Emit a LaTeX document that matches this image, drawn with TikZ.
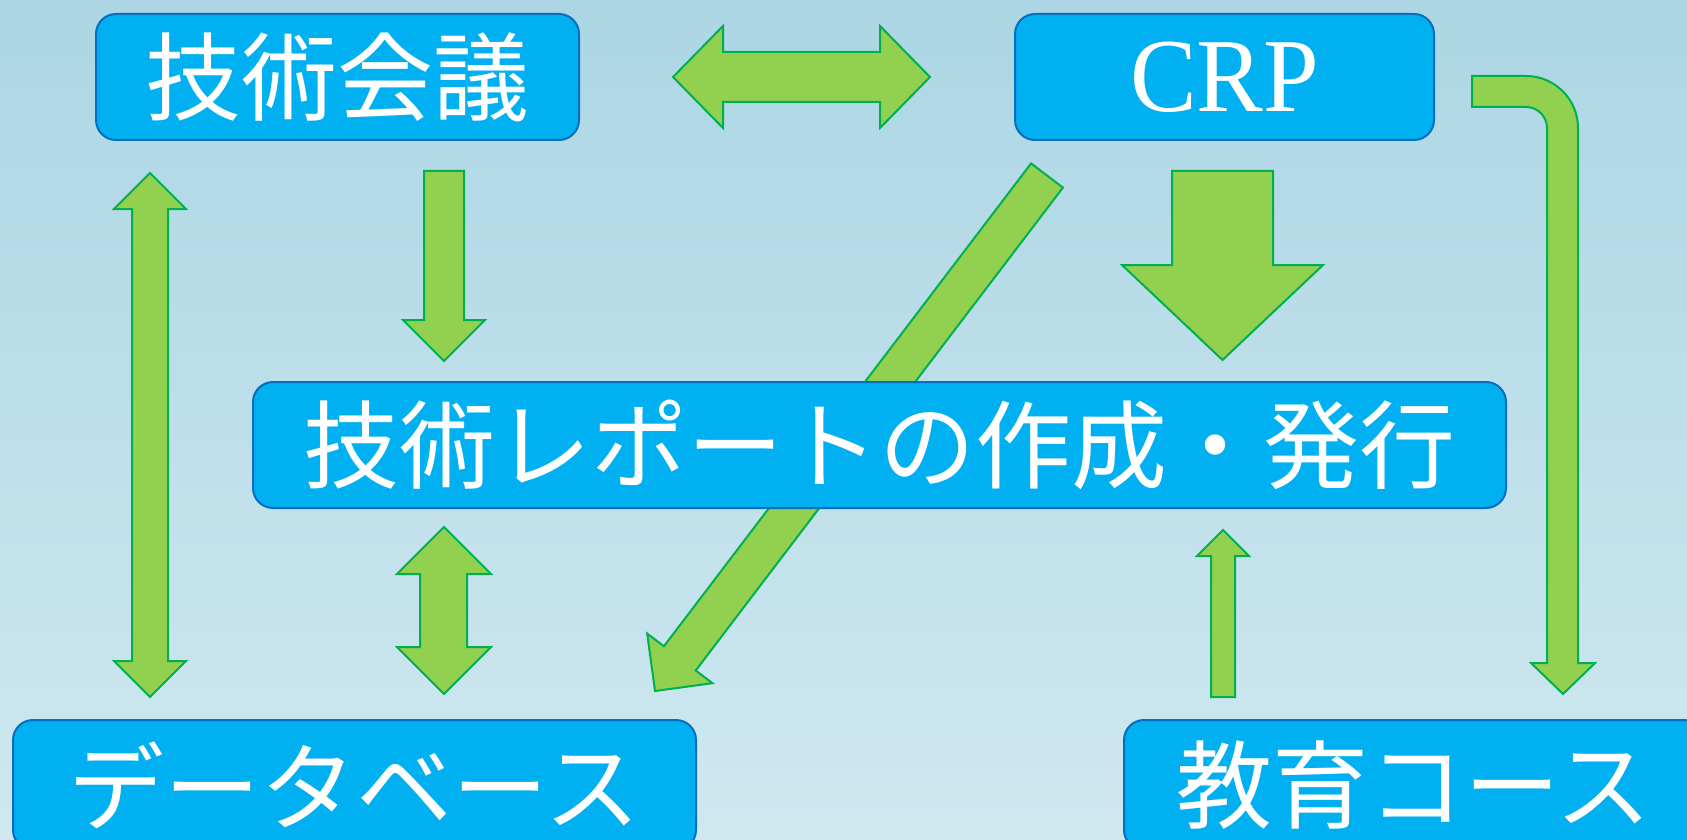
\documentclass[tikz,border=0pt]{standalone}
\usepackage{fontspec}
\usetikzlibrary{calc}
\newfontfamily\jpfont{Noto Sans CJK JP}
\newfontfamily\crpfont{Liberation Serif}
\definecolor{bgtop}{RGB}{172,214,228}
\definecolor{bgbot}{RGB}{207,232,240}
\definecolor{boxfill}{RGB}{0,176,240}
\definecolor{boxline}{RGB}{10,110,190}
\definecolor{arrowfill}{RGB}{146,208,80}
\definecolor{arrowline}{RGB}{0,176,80}
\begin{document}
\begin{tikzpicture}[x=1pt,y=-1pt,
  blockarrow/.style={fill=arrowfill, draw=arrowline, line width=2pt, line join=miter},
  box/.style={fill=boxfill, draw=boxline, line width=2pt, rounded corners=20pt, anchor=north west, inner sep=0pt, text=white},
  jp/.style={font=\jpfont\fontsize{96}{110}\selectfont},
  crp/.style={font=\crpfont\fontsize{100}{110}\selectfont}]
\useasboundingbox (0,0) rectangle (1687,840);
\clip (0,0) rectangle (1687,840);
\shade[top color=bgtop,bottom color=bgbot] (0,0) rectangle (1687,840);

% horizontal double arrow
\draw[blockarrow] (673,77) -- (723,26) -- (723,52) -- (880,52) -- (880,26) -- (930,77) -- (880,128) -- (880,102) -- (723,102) -- (723,128) -- cycle;
% down arrow from kaigi
\draw[blockarrow] (424,171) -- (464,171) -- (464,320) -- (485,320) -- (444,361) -- (403,320) -- (424,320) -- cycle;
% left double vertical arrow
\draw[blockarrow] (150,173) -- (186,209) -- (168,209) -- (168,661) -- (186,661) -- (150,697) -- (114,661) -- (132,661) -- (132,209) -- (114,209) -- cycle;
% middle double vertical arrow
\draw[blockarrow] (444,527) -- (491,574) -- (467,574) -- (467,647) -- (491,647) -- (444,694) -- (397,647) -- (420,647) -- (420,574) -- (397,574) -- cycle;
% diagonal arrow
\coordinate (dA) at (1047,175.5);
\coordinate (dT) at (655,691);
\coordinate (dH) at ($(dT)!41pt!(dA)$);
\draw[blockarrow] ($(dA)!20pt!90:(dT)$) -- ($(dH)!20pt!-90:(dA)$) -- ($(dH)!41pt!-90:(dA)$) -- (dT) -- ($(dH)!41pt!90:(dA)$) -- ($(dH)!20pt!90:(dA)$) -- ($(dA)!20pt!-90:(dT)$) -- cycle;
% big down arrow from CRP
\draw[blockarrow] (1172,171) -- (1273,171) -- (1273,265) -- (1323,265) -- (1222.5,360) -- (1122,265) -- (1172,265) -- cycle;
% bent arrow
\draw[blockarrow] (1472,76) -- (1526,76) .. controls (1554.7,76) and (1578,99.3) .. (1578,128) -- (1578,663) -- (1595,663) -- (1563,694) -- (1531,663) -- (1547,663) -- (1547,128) .. controls (1547,116.4) and (1537.6,107) .. (1526,107) -- (1472,107) -- cycle;
% up arrow from course
\draw[blockarrow] (1211,697) -- (1211,556) -- (1197,556) -- (1223,530) -- (1249,556) -- (1235,556) -- (1235,697) -- cycle;

\node[box, jp, minimum width=483pt, minimum height=126pt] (kaigi) at (95,13) {技術会議};
\node[box, crp, minimum width=419pt, minimum height=126pt] (crp) at (1014,13) {\raisebox{-1pt}{\scalebox{1}[1.05]{CRP}}};
\node[box, jp, minimum width=1253pt, minimum height=126pt] (report) at (252,381) {技術レポートの作成・発行};
\node[box, jp, minimum width=683pt, minimum height=130pt] (db) at (12,719) {データベース};
\node[box, jp, minimum width=580pt, minimum height=130pt] (course) at (1123,719) {教育コース};
\end{tikzpicture}
\end{document}
